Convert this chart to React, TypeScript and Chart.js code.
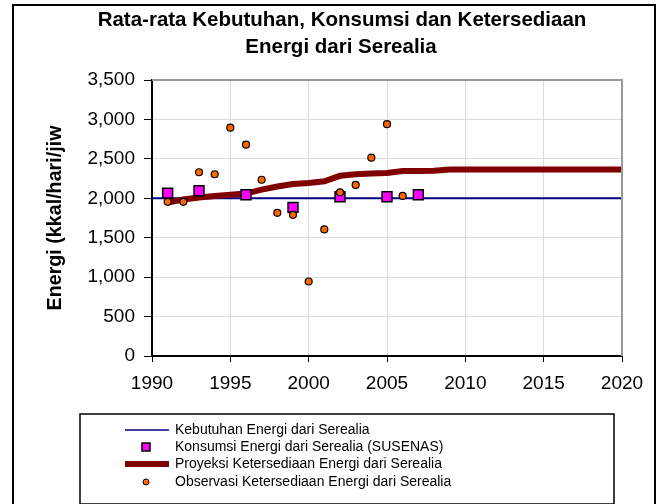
import React, { useEffect, useRef } from "react";
import { Chart, registerables } from "chart.js";

Chart.register(...registerables);

const years = [1990, 1991, 1992, 1993, 1994, 1995, 1996, 1997, 1998, 1999, 2000, 2001, 2002, 2003, 2004, 2005, 2006, 2007, 2008, 2009, 2010, 2011, 2012, 2013, 2014, 2015, 2016, 2017, 2018, 2019, 2020];
const kebutuhan = [2000, 2000, 2000, 2000, 2000, 2000, 2000, 2000, 2000, 2000, 2000, 2000, 2000, 2000, 2000, 2000, 2000, 2000, 2000, 2000, 2000, 2000, 2000, 2000, 2000, 2000, 2000, 2000, 2000, 2000, 2000];

const susenasYears = [1991, 1993, 1996, 1999, 2002, 2005, 2007];
const susenasValues = [2065, 2095, 2045, 1885, 2020, 2020, 2045];

const proyeksiYears = [1991, 1992, 1993, 1994, 1995, 1996, 1997, 1998, 1999, 2000, 2001, 2002, 2003, 2004, 2005, 2006, 2007, 2008, 2009, 2010, 2011, 2012, 2013, 2014, 2015, 2016, 2017, 2018, 2019, 2020];
const proyeksiValues = [1945, 1985, 2010, 2030, 2045, 2060, 2110, 2150, 2180, 2195, 2215, 2285, 2305, 2315, 2320, 2345, 2345, 2350, 2365, 2365, 2365, 2365, 2365, 2365, 2365, 2365, 2365, 2365, 2365, 2365];

const observasiYears = [1991, 1992, 1993, 1994, 1995, 1996, 1997, 1998, 1999, 2000, 2001, 2002, 2003, 2004, 2005, 2006];
const observasiValues = [1955, 1955, 2330, 2305, 2895, 2680, 2235, 1815, 1790, 945, 1605, 2075, 2170, 2515, 2940, 2030];

const titleLines = ["Rata-rata Kebutuhan, Konsumsi dan Ketersediaan", "Energi dari Serealia"];
const yAxisTitle = "Energi (kkal/hari/jiw";
const legendLabels = [
  "Kebutuhan Energi dari Serealia",
  "Konsumsi Energi dari Serealia (SUSENAS)",
  "Proyeksi Ketersediaan Energi dari Serealia",
  "Observasi Ketersediaan Energi dari Serealia",
];

const FONT = "'Liberation Sans', Arial, sans-serif";

const framePlugin = {
  id: "frameAndExtras",
  beforeDraw(chart: any) {
    const ctx = chart.ctx;
    ctx.save();
    ctx.fillStyle = "#ffffff";
    ctx.fillRect(0, 0, chart.width, chart.height);
    ctx.restore();
  },
  afterDatasetsDraw(chart: any) {
    const { ctx, chartArea } = chart;
    ctx.save();
    ctx.strokeStyle = "#999999";
    ctx.lineWidth = 2;
    ctx.beginPath();
    ctx.moveTo(chartArea.left, chartArea.top);
    ctx.lineTo(chartArea.right, chartArea.top);
    ctx.lineTo(chartArea.right, chartArea.bottom);
    ctx.stroke();
    ctx.restore();
  },
  afterDraw(chart: any) {
    const ctx = chart.ctx;
    ctx.save();
    // outer frame
    ctx.strokeStyle = "#000000";
    ctx.lineWidth = 2;
    ctx.strokeRect(13, 5, 642, 500);
    // title
    ctx.fillStyle = "#000000";
    ctx.font = `bold 20.5px ${FONT}`;
    ctx.textAlign = "center";
    ctx.textBaseline = "middle";
    ctx.fillText(titleLines[0], 342, 20);
    ctx.fillText(titleLines[1], 341, 47);
    // legend
    const lx = 80, ly = 414, lw = 534, lh = 90;
    ctx.lineWidth = 1.5;
    ctx.strokeStyle = "#000000";
    ctx.strokeRect(lx, ly, lw, lh);
    const rows = [430, 447, 464, 482];
    const sx0 = 125, sx1 = 169;
    ctx.font = `14px ${FONT}`;
    ctx.textAlign = "left";
    ctx.textBaseline = "middle";
    ctx.strokeStyle = "#000080";
    ctx.lineWidth = 1.5;
    ctx.beginPath();
    ctx.moveTo(sx0, rows[0]);
    ctx.lineTo(sx1, rows[0]);
    ctx.stroke();
    ctx.fillStyle = "#ff00ff";
    ctx.strokeStyle = "#000000";
    ctx.lineWidth = 1.5;
    ctx.fillRect(142, rows[1] - 4, 8, 8);
    ctx.strokeRect(142, rows[1] - 4, 8, 8);
    ctx.strokeStyle = "#800000";
    ctx.lineWidth = 6;
    ctx.beginPath();
    ctx.moveTo(sx0, rows[2]);
    ctx.lineTo(sx1, rows[2]);
    ctx.stroke();
    ctx.fillStyle = "#ff6600";
    ctx.strokeStyle = "#000000";
    ctx.lineWidth = 1;
    ctx.beginPath();
    ctx.arc(146, rows[3], 3, 0, Math.PI * 2);
    ctx.fill();
    ctx.stroke();
    ctx.fillStyle = "#000000";
    legendLabels.forEach((t, i) => ctx.fillText(t, 175, rows[i]));
    ctx.restore();
  },
};

export default function App() {
  const ref = useRef<HTMLCanvasElement | null>(null);
  useEffect(() => {
    document.body.style.margin = "0";
    const canvas = ref.current!;
    const chart = new Chart(canvas, {
      type: "line",
      data: {
        datasets: [
          {
            label: legendLabels[0],
            data: years.map((x, i) => ({ x, y: kebutuhan[i] })),
            borderColor: "#000080",
            borderWidth: 2,
            pointRadius: 0,
            order: 4,
          },
          {
            label: legendLabels[1],
            data: susenasYears.map((x, i) => ({ x, y: susenasValues[i] })),
            showLine: false,
            pointStyle: "rect",
            pointRadius: 7,
            pointBackgroundColor: "#ff00ff",
            pointBorderColor: "#000000",
            pointBorderWidth: 1.5,
            order: 2,
          },
          {
            label: legendLabels[2],
            data: proyeksiYears.map((x, i) => ({ x, y: proyeksiValues[i] })),
            borderColor: "#800000",
            borderWidth: 6,
            pointRadius: 0,
            order: 3,
          },
          {
            label: legendLabels[3],
            data: observasiYears.map((x, i) => ({ x, y: observasiValues[i] })),
            showLine: false,
            pointStyle: "circle",
            pointRadius: 3.5,
            pointBackgroundColor: "#ff6600",
            pointBorderColor: "#000000",
            pointBorderWidth: 1.2,
            order: 1,
          },
        ],
      },
      options: {
        animation: false,
        responsive: false,
        devicePixelRatio: 1,
        layout: { padding: { top: 80, left: 44, right: 42, bottom: 108 } },
        plugins: {
          legend: { display: false },
          title: { display: false },
          tooltip: { enabled: false },
        },
        scales: {
          x: {
            type: "linear",
            min: 1990,
            max: 2020,
            ticks: {
              stepSize: 5,
              color: "#000000",
              font: { family: FONT, size: 19 },
              padding: 10,
              callback: (v: any) => String(v),
            },
            grid: {
              color: "#dddddd",
              lineWidth: 1,
              tickColor: "#000000",
              tickLength: 6,
            },
            border: { color: "#000000", width: 2 },
            afterFit: (s: any) => {
              s.height = 40;
            },
          },
          y: {
            min: 0,
            max: 3500,
            ticks: {
              stepSize: 500,
              color: "#000000",
              font: { family: FONT, size: 19 },
              padding: 9,
              callback: (v: any) => Number(v).toLocaleString("en-US"),
            },
            grid: {
              color: "#dddddd",
              lineWidth: 1,
              tickColor: "#000000",
              tickLength: 8,
            },
            border: { color: "#000000", width: 2 },
            title: {
              display: true,
              text: yAxisTitle,
              color: "#000000",
              font: { family: FONT, size: 19.7, weight: "bold" },
              padding: { top: 0, bottom: 20 },
            },
            afterFit: (s: any) => {
              s.width = 108;
            },
          },
        },
      },
      plugins: [framePlugin],
    });
    return () => chart.destroy();
  }, []);
  return <canvas ref={ref} width={664} height={504} style={{ display: "block" }} />;
}
